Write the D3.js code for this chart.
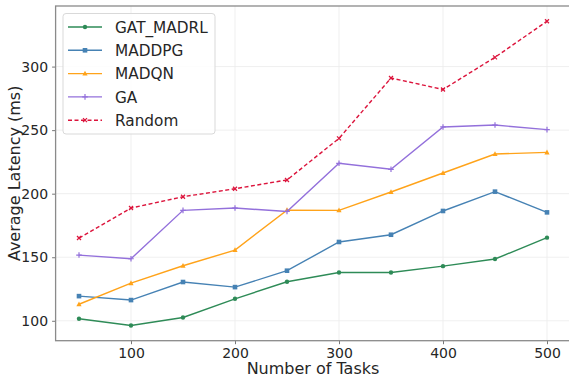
<!DOCTYPE html>
<html>
<head>
<meta charset="utf-8">
<script src="https://cdn.jsdelivr.net/npm/d3@7"></script>
<style>
  html, body { margin: 0; padding: 0; background: #fff; }
  svg { display: block; font-family: "DejaVu Sans", sans-serif; }
</style>
</head>
<body>
<div id="chart"></div>
<script>
// Average latency (ms) by number of tasks, per scheduling method
const tasks = [50, 100, 150, 200, 250, 300, 350, 400, 450, 500];
const gatMadrl = [101.6, 96.3, 102.6, 117.3, 130.7, 138.0, 138.0, 143.0, 148.6, 165.4];
const maddpg   = [119.4, 116.3, 130.5, 126.5, 139.4, 162.0, 167.7, 186.4, 201.6, 185.3];
const madqn    = [113.0, 129.6, 143.3, 155.6, 187.1, 186.9, 201.3, 216.3, 231.2, 232.5];
const ga       = [151.7, 148.8, 186.9, 188.7, 186.0, 223.9, 219.2, 252.5, 254.0, 250.4];
const random   = [165.1, 188.7, 197.6, 203.9, 210.8, 243.5, 291.0, 282.0, 307.3, 335.7];
const seriesNames = ["GAT_MADRL", "MADDPG", "MADQN", "GA", "Random"];
const xTicks = [100, 200, 300, 400, 500];
const yTicks = [100, 150, 200, 250, 300];

const series = [
  { name: seriesNames[0], values: gatMadrl, color: "#2e8b57", marker: "circle", dash: null },
  { name: seriesNames[1], values: maddpg,   color: "#4682b4", marker: "square", dash: null },
  { name: seriesNames[2], values: madqn,    color: "#ffa31a", marker: "triangle", dash: null },
  { name: seriesNames[3], values: ga,       color: "#9370db", marker: "plus", dash: null },
  { name: seriesNames[4], values: random,   color: "#dc143c", marker: "cross", dash: "4,2.5" }
];

const W = 569, H = 379;
const m = { left: 55.6, right: -1.4, top: 6, bottom: 38.3 };
const svg = d3.select("#chart").append("svg").attr("width", W).attr("height", H);

const allVals = series.flatMap(s => s.values);
const yMin = d3.min(allVals), yMax = d3.max(allVals);
const yPad = (yMax - yMin) * 0.05;
const xPad = (d3.max(tasks) - d3.min(tasks)) * 0.05;

const x = d3.scaleLinear()
  .domain([d3.min(tasks) - xPad, d3.max(tasks) + xPad])
  .range([m.left, W - m.right]);
const y = d3.scaleLinear()
  .domain([yMin - yPad, yMax + yPad])
  .range([H - m.bottom, m.top]);

// grid
const grid = svg.append("g").attr("stroke", "#ebebeb").attr("stroke-width", 0.8);
grid.selectAll(".gx").data(xTicks).join("line")
  .attr("x1", d => x(d)).attr("x2", d => x(d))
  .attr("y1", m.top).attr("y2", H - m.bottom);
grid.selectAll(".gy").data(yTicks).join("line")
  .attr("x1", m.left).attr("x2", W - m.right)
  .attr("y1", d => y(d)).attr("y2", d => y(d));

// axes
const xAxis = svg.append("g")
  .attr("transform", `translate(0,${H - m.bottom})`)
  .call(d3.axisBottom(x).tickValues(xTicks).tickSize(3.5).tickPadding(3.5).tickFormat(d3.format("d")));
const yAxis = svg.append("g")
  .attr("transform", `translate(${m.left},0)`)
  .call(d3.axisLeft(y).tickValues(yTicks).tickSize(3.5).tickPadding(4).tickFormat(d3.format("d")));
[xAxis, yAxis].forEach(a => {
  a.select(".domain").remove();
  a.selectAll(".tick line").attr("stroke", "#555").attr("stroke-width", 0.8);
  a.selectAll(".tick text").attr("fill", "#262626").style("font-size", "14px")
    .style("font-family", "DejaVu Sans, sans-serif");
});

// frame
svg.append("rect")
  .attr("x", m.left).attr("y", m.top)
  .attr("width", W - m.right - m.left).attr("height", H - m.bottom - m.top)
  .attr("fill", "none").attr("stroke", "#8a8a8a").attr("stroke-width", 1.3);

// axis titles
svg.append("text")
  .attr("x", x(275)).attr("y", 373.5)
  .attr("text-anchor", "middle").attr("fill", "#262626")
  .style("font-size", "16px").text("Number of Tasks");
svg.append("text")
  .attr("transform", `translate(20,${(m.top + H - m.bottom) / 2}) rotate(-90)`)
  .attr("text-anchor", "middle").attr("fill", "#262626")
  .style("font-size", "16px").text("Average Latency (ms)");

function drawMarker(g, type, cx, cy, color) {
  if (type === "circle") {
    g.append("circle").attr("cx", cx).attr("cy", cy).attr("r", 2.2).attr("fill", color);
  } else if (type === "square") {
    g.append("rect").attr("x", cx - 2.3).attr("y", cy - 2.3).attr("width", 4.6).attr("height", 4.6).attr("fill", color);
  } else if (type === "triangle") {
    g.append("path").attr("d", `M${cx},${cy - 2.8}L${cx + 2.6},${cy + 2}L${cx - 2.6},${cy + 2}Z`).attr("fill", color);
  } else if (type === "plus") {
    g.append("path").attr("d", `M${cx - 2.8},${cy}H${cx + 2.8}M${cx},${cy - 2.8}V${cy + 2.8}`)
      .attr("stroke", color).attr("stroke-width", 1.2);
  } else if (type === "cross") {
    g.append("path").attr("d", `M${cx - 2},${cy - 2}L${cx + 2},${cy + 2}M${cx - 2},${cy + 2}L${cx + 2},${cy - 2}`)
      .attr("stroke", color).attr("stroke-width", 1.2);
  }
}

const line = d3.line().x(d => x(d[0])).y(d => y(d[1]));
series.forEach(s => {
  const pts = tasks.map((t, i) => [t, s.values[i]]);
  const g = svg.append("g");
  g.append("path").datum(pts).attr("d", line)
    .attr("fill", "none").attr("stroke", s.color).attr("stroke-width", 1.4)
    .attr("stroke-dasharray", s.dash);
  pts.forEach(p => drawMarker(g, s.marker, x(p[0]), y(p[1]), s.color));
});

// legend
const lg = svg.append("g");
lg.append("rect").attr("x", 63).attr("y", 13.5).attr("width", 152).attr("height", 120.5)
  .attr("rx", 3).attr("fill", "#fff").attr("fill-opacity", 0.85)
  .attr("stroke", "#d9d9d9").attr("stroke-width", 1);
series.forEach((s, i) => {
  const ly = 27 + i * 23.3;
  lg.append("line").attr("x1", 68).attr("x2", 102).attr("y1", ly).attr("y2", ly)
    .attr("stroke", s.color).attr("stroke-width", 1.4).attr("stroke-dasharray", s.dash);
  drawMarker(lg, s.marker, 85, ly, s.color);
  lg.append("text").attr("x", 115).attr("y", ly + 5.8).attr("fill", "#262626")
    .style("font-size", "15.3px").text(s.name);
});
</script>
</body>
</html>
